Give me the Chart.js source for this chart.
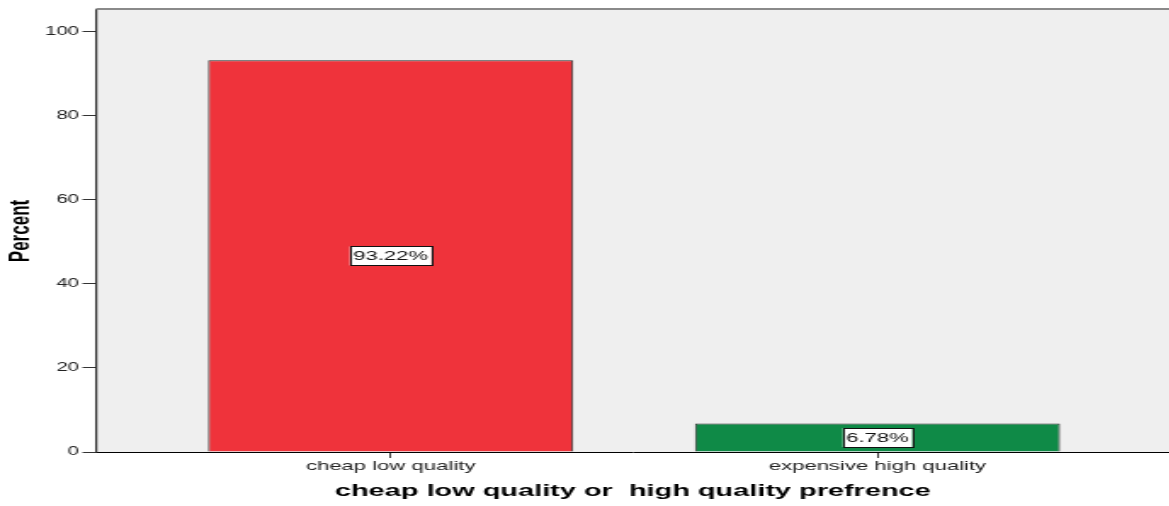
<!DOCTYPE html>
<html>
<head>
<meta charset="utf-8">
<script src="https://cdn.jsdelivr.net/npm/chart.js@4"></script>
<style>
  html, body { margin: 0; padding: 0; background: #fff; }
  #wrap { width: 1169px; height: 506px; overflow: hidden; }
  /* the reference picture is stretched sideways, so the canvas is too */
  #chart { display: block; transform: scaleX(1.7); transform-origin: 0 0; }
</style>
</head>
<body>
<div id="wrap"><canvas id="chart" width="688" height="506"></canvas></div>
<script>
const categories = ['cheap low quality', 'expensive high quality'];
const percents = [93.22, 6.78];
const barColors = ['#ef333b', '#0f8a47'];
const yTicks = [0, 20, 40, 60, 80, 100];

const FONT = "'Liberation Sans', Arial, sans-serif";

// grey plot background + top frame line
const plotFrame = {
  id: 'plotFrame',
  beforeDraw(chart) {
    const a = chart.chartArea;
    const ctx = chart.ctx;
    ctx.save();
    ctx.fillStyle = '#efefef';
    ctx.fillRect(a.left, a.top, a.right - a.left, a.bottom - a.top);
    ctx.restore();
  },
  afterDraw(chart) {
    const a = chart.chartArea;
    const ctx = chart.ctx;
    ctx.save();
    ctx.strokeStyle = '#8a8a8a';
    ctx.lineWidth = 2;
    ctx.beginPath();
    ctx.moveTo(a.left, a.top - 1);
    ctx.lineTo(a.right, a.top - 1);
    ctx.stroke();
    ctx.restore();
  }
};

// boxed percentage labels in the middle of each bar
const boxLabels = {
  id: 'boxLabels',
  afterDatasetsDraw(chart) {
    const ctx = chart.ctx;
    const meta = chart.getDatasetMeta(0);
    ctx.save();
    ctx.font = '13px ' + FONT;
    ctx.textAlign = 'center';
    ctx.textBaseline = 'middle';
    meta.data.forEach((bar, i) => {
      const text = percents[i].toFixed(2) + '%';
      const w = ctx.measureText(text).width + 4;
      const h = 19;
      const cx = bar.x;
      const cy = (bar.y + bar.base) / 2;
      ctx.fillStyle = '#fff';
      ctx.fillRect(cx - w / 2, cy - h / 2, w, h);
      ctx.strokeStyle = '#111';
      ctx.lineWidth = 1;
      ctx.strokeRect(Math.round(cx - w / 2) + 0.5, Math.round(cy - h / 2) + 0.5, Math.round(w), h);
      ctx.fillStyle = '#111';
      ctx.fillText(text, cx, cy + 1);
    });
    ctx.restore();
  }
};

new Chart(document.getElementById('chart'), {
  type: 'bar',
  data: {
    datasets: [{
      data: percents.map((v, i) => ({ x: i, y: v })),
      backgroundColor: barColors,
      borderColor: '#2a2a2a',
      borderWidth: 1,
      barPercentage: 0.75,
      categoryPercentage: 1
    }]
  },
  options: {
    responsive: false,
    animation: false,
    layout: { padding: { top: 10, right: 0, bottom: 0, left: 0 } },
    plugins: {
      legend: { display: false },
      tooltip: { enabled: false }
    },
    scales: {
      x: {
        type: 'linear',
        min: -0.605,
        max: 1.6,
        offset: false,
        afterBuildTicks(scale) {
          scale.ticks = categories.map((c, i) => ({ value: i }));
        },
        afterFit(scale) { scale.height = 54; },
        ticks: {
          font: { size: 13, family: FONT },
          color: '#222',
          padding: 1,
          maxRotation: 0,
          callback: (v) => categories[Math.round(v)]
        },
        grid: { drawOnChartArea: false, offset: false, tickLength: 6, color: '#333' },
        border: { display: true, color: '#000', width: 1 },
        title: {
          display: true,
          text: 'cheap low quality or  high quality prefrence',
          font: { size: 17, weight: 'bold', family: FONT },
          color: '#000',
          padding: { top: 0, bottom: 4 }
        }
      },
      y: {
        min: 0,
        max: 105.2,
        afterBuildTicks(scale) {
          scale.ticks = yTicks.map(v => ({ value: v }));
        },
        afterFit(scale) { scale.width = 56.5; },
        ticks: {
          font: { size: 12, family: FONT },
          color: '#222',
          padding: 2
        },
        grid: { drawOnChartArea: false, tickLength: 8, color: '#333' },
        border: { display: true, color: '#2a2a2a', width: 1.2 },
        title: {
          display: true,
          text: 'Percent',
          font: { size: 17, weight: 'bold', family: FONT },
          color: '#000',
          padding: { top: 2, bottom: 0 }
        }
      }
    }
  },
  plugins: [plotFrame, boxLabels]
});
</script>
</body>
</html>
